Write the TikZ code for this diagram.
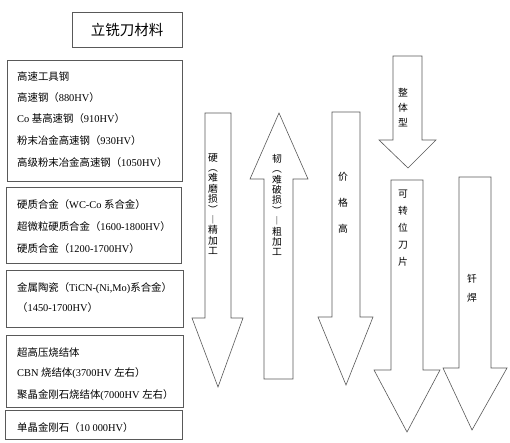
\documentclass[tikz,border=0pt]{standalone}
\usepackage{fontspec}
\setmainfont{Liberation Serif}
\newfontfamily\cjk{Noto Sans CJK SC}
\newcommand{\zh}[1]{{\cjk #1}}
\usetikzlibrary{positioning}

\begin{document}
\begin{tikzpicture}[x=1pt,y=-1pt,
  frame/.style={draw=black!65,line width=.6pt},
  item/.style={anchor=west,inner sep=0pt,font=\fontsize{10.4}{12}\selectfont},
  vtext/.style={align=center,inner sep=0pt,font=\cjk\fontsize{9.8}{10.4}\selectfont}]
  \useasboundingbox[fill=white](0,0) rectangle(510,442);
  % title
  \draw[frame](72,12) rectangle(182,47);
  \node[font=\cjk\fontsize{14.5}{16}\selectfont] (title) at (127,30) {立铣刀材料};
  % material boxes
  \draw[frame](7,60) rectangle(182,181);
  \node[item] (hss1) at (17,77) {\zh{高速工具钢}};
  \node[item] (hss2) at (17,98) {\zh{高速钢（}880HV\zh{）}};
  \node[item] (hss3) at (17,119) {Co \zh{基高速钢（}910HV\zh{）}};
  \node[item] (hss4) at (17,141) {\zh{粉末冶金高速钢（}930HV\zh{）}};
  \node[item] (hss5) at (17,163) {\zh{高级粉末冶金高速钢（}1050HV\zh{）}};
  \draw[frame](6,187) rectangle(181,263);
  \node[item] (wc1) at (17,205) {\zh{硬质合金（}WC-Co \zh{系合金）}};
  \node[item] (wc2) at (17,227) {\zh{超微粒硬质合金（}1600-1800HV\zh{）}};
  \node[item] (wc3) at (17,249) {\zh{硬质合金（}1200-1700HV\zh{）}};
  \draw[frame](6,270) rectangle(183,327);
  \node[item] (cer1) at (17,288) {\zh{金属陶瓷（}TiCN-(Ni,Mo)\zh{系合金）}};
  \node[item] (cer2) at (17,308) {\zh{（}1450-1700HV\zh{）}};
  \draw[frame](6,335) rectangle(183,407);
  \node[item] (pc1) at (17,353) {\zh{超高压烧结体}};
  \node[item] (pc2) at (17,373) {CBN \zh{烧结体}(3700HV \zh{左右）}};
  \node[item] (pc3) at (17,395) {\zh{聚晶金刚石烧结体}(7000HV \zh{左右）}};
  \draw[frame](5,410) rectangle(182,439);
  \node[item] (dia) at (17,428) {\zh{单晶金刚石（}10 000HV\zh{）}};
  % property arrows
  \draw[frame](205,113)--(231,113)--(231,318)--(243,318)--(218,387)--(192,318)--(205,318)--cycle;
  \node[vtext] (hard) at (213,204) {硬\\︵\\难\\磨\\损\\︶\\︱\\精\\加\\工};
  \draw[frame](279,113)--(308,179)--(293,179)--(293,379)--(264,379)--(264,179)--(250,179)--cycle;
  \node[vtext] (tough) at (277,205) {韧\\︵\\难\\破\\损\\︶\\︱\\粗\\加\\工};
  \draw[frame](332,112)--(360,112)--(360,317)--(373,317)--(346,385)--(318,317)--(332,317)--cycle;
  \node[vtext,font=\cjk\fontsize{9.8}{26}\selectfont] (price) at (343,203) {价\\格\\高};
  % structure arrows
  \draw[frame](393,56)--(422,56)--(422,140)--(436,140)--(408,168)--(379,140)--(393,140)--cycle;
  \node[vtext,font=\cjk\fontsize{9.8}{15}\selectfont] (solid) at (403,108) {整\\体\\型};
  \draw[frame](391,180)--(423,180)--(423,370)--(440,370)--(407,432)--(374,370)--(391,370)--cycle;
  \node[vtext,font=\cjk\fontsize{9.8}{17}\selectfont] (insert) at (403,228) {可\\转\\位\\刀\\片};
  \draw[frame](459,177)--(491,177)--(491,368)--(507,368)--(472,430)--(443,368)--(459,368)--cycle;
  \node[vtext,font=\cjk\fontsize{9.8}{19}\selectfont] (braze) at (472,288) {钎\\焊};
\end{tikzpicture}
\end{document}
